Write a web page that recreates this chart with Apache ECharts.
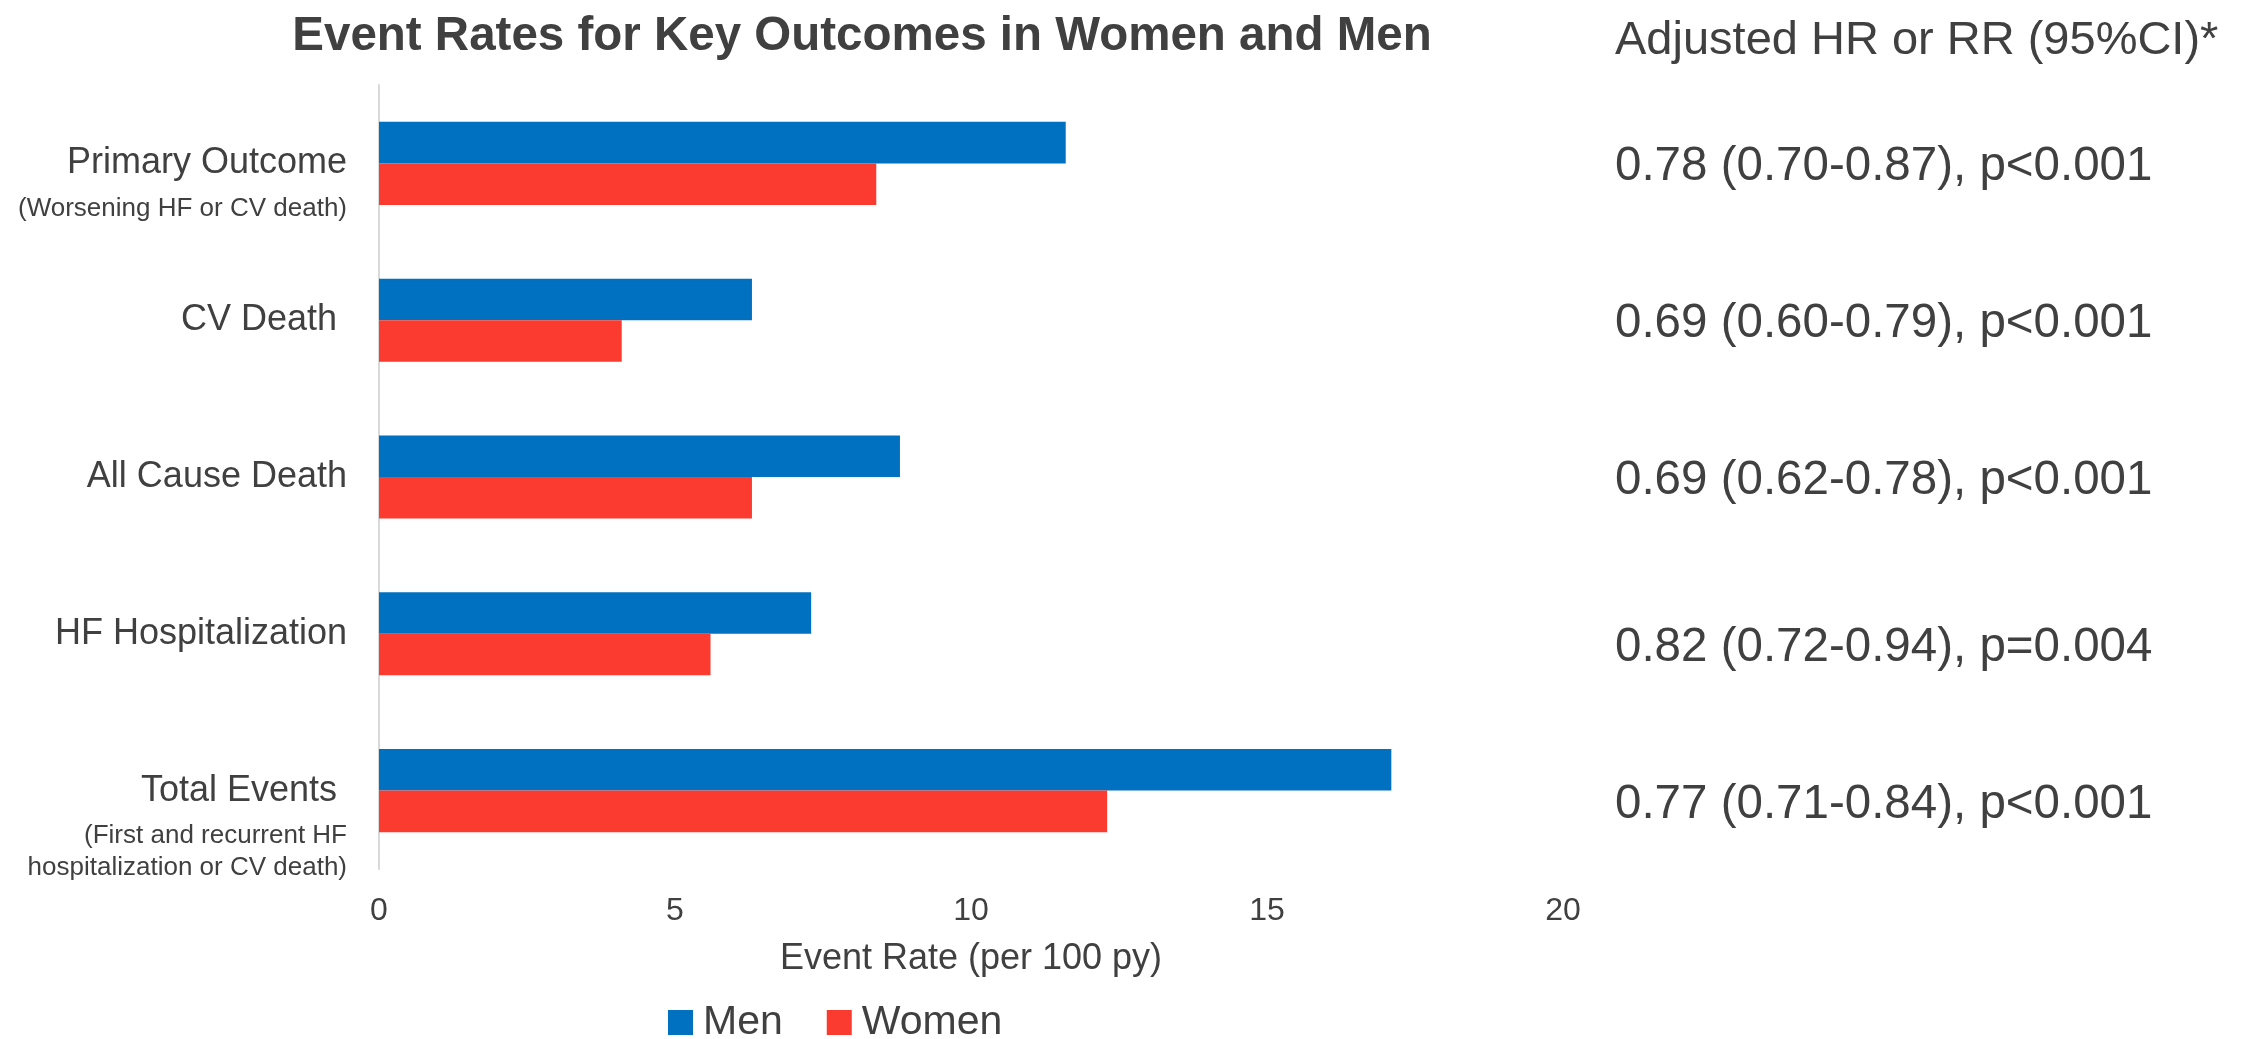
<!DOCTYPE html>
<html>
<head>
<meta charset="utf-8">
<script src="https://cdn.jsdelivr.net/npm/echarts@6/dist/echarts.min.js"></script>
<style>
  html, body { margin: 0; padding: 0; background: #ffffff; }
  #chart { width: 2259px; height: 1039px; }
</style>
</head>
<body>
<div id="chart"></div>
<script>
// Outcome categories (top to bottom) and their explanatory sub-lines
const categories = ['Primary Outcome', 'CV Death ', 'All Cause Death', 'HF Hospitalization', 'Total Events '];
const subtitles = [
  ['(Worsening HF or CV death)'],
  [],
  [],
  [],
  ['(First and recurrent HF', 'hospitalization or CV death)']
];

// Event rates per 100 patient-years
const menRates = [11.6, 6.3, 8.8, 7.3, 17.1];
const womenRates = [8.4, 4.1, 6.3, 5.6, 12.3];

// Adjusted hazard / rate ratios shown beside each outcome
const hrLabels = [
  '0.78 (0.70-0.87), p<0.001',
  '0.69 (0.60-0.79), p<0.001',
  '0.69 (0.62-0.78), p<0.001',
  '0.82 (0.72-0.94), p=0.004',
  '0.77 (0.71-0.84), p<0.001'
];

const seriesNames = ['Men', 'Women'];
const xMin = 0, xMax = 20, xStep = 5;

const TEXT = '#404040';
const FONT = '"Liberation Sans", Arial, Helvetica, sans-serif';

const chart = echarts.init(document.getElementById('chart'), null, { renderer: 'canvas' });

// Left labels: main name on the category centre, sub-lines hanging below it.
// A blank spacer of the same height as the sub-lines keeps the main line centred.
function leftLabel(value, idx) {
  const subs = subtitles[idx] || [];
  const parts = [];
  subs.forEach(() => parts.push('{sp| }'));
  parts.push('{main|' + value + '}');
  subs.forEach(s => parts.push('{sub|' + s + '}'));
  return parts.join('\n');
}

// The last two ratio rows sit slightly below their bars
function rightLabel(value, idx) {
  return (idx >= 3 ? '{low|' : '{norm|') + hrLabels[idx] + '}';
}

const option = {
  backgroundColor: '#ffffff',
  animation: false,
  textStyle: { fontFamily: FONT, color: TEXT },
  graphic: [
    {
      type: 'text',
      x: 862, y: 37,
      style: {
        text: 'Event Rates for Key Outcomes in Women and Men',
        fill: TEXT,
        font: 'bold 47.5px ' + FONT,
        textAlign: 'center',
        textVerticalAlign: 'middle'
      }
    },
    {
      type: 'text',
      x: 1615, y: 41,
      style: {
        text: 'Adjusted HR or RR (95%CI)*',
        fill: TEXT,
        font: '47px ' + FONT,
        textAlign: 'left',
        textVerticalAlign: 'middle'
      }
    }
  ],
  legend: {
    data: seriesNames,
    left: 668,
    top: 1002,
    padding: 0,
    itemWidth: 25,
    itemHeight: 25,
    itemGap: 44,
    icon: 'rect',
    textStyle: { fontSize: 41, color: TEXT, fontFamily: FONT, padding: [0, 0, 0, 5] }
  },
  grid: { left: 379, right: 696, top: 85, bottom: 170, containLabel: false },
  xAxis: {
    type: 'value',
    min: xMin,
    max: xMax,
    interval: xStep,
    axisLine: { show: false },
    axisTick: { show: false },
    splitLine: { show: false },
    axisLabel: { fontSize: 32, color: TEXT, fontFamily: FONT, margin: 26 },
    name: 'Event Rate (per 100 py)',
    nameLocation: 'middle',
    nameGap: 72,
    nameTextStyle: { fontSize: 36, color: TEXT, fontFamily: FONT }
  },
  yAxis: [
    {
      type: 'category',
      data: categories,
      inverse: true,
      axisLine: { show: true, lineStyle: { color: '#D9D9D9', width: 2 } },
      axisTick: { show: false },
      splitLine: { show: false },
      axisLabel: {
        margin: 32,
        align: 'right',
        formatter: leftLabel,
        rich: {
          main: { fontSize: 36, lineHeight: 58, color: TEXT, fontFamily: FONT, align: 'right' },
          sub: { fontSize: 26, lineHeight: 32, color: TEXT, fontFamily: FONT, align: 'right' },
          sp: { fontSize: 26, lineHeight: 32, align: 'right' }
        }
      }
    },
    {
      type: 'category',
      data: categories,
      inverse: true,
      position: 'right',
      axisLine: { show: false },
      axisTick: { show: false },
      splitLine: { show: false },
      axisLabel: {
        margin: 52,
        align: 'left',
        formatter: rightLabel,
        rich: {
          norm: { fontSize: 47.5, color: TEXT, fontFamily: FONT, padding: [8, 0, 0, 0] },
          low: { fontSize: 47.5, color: TEXT, fontFamily: FONT, padding: [28, 0, 0, 0] }
        }
      }
    }
  ],
  series: [
    {
      name: seriesNames[0],
      type: 'bar',
      yAxisIndex: 0,
      data: menRates,
      barGap: '0%',
      barCategoryGap: '47%',
      itemStyle: { color: '#0070C0' }
    },
    {
      name: seriesNames[1],
      type: 'bar',
      yAxisIndex: 0,
      data: womenRates,
      barGap: '0%',
      barCategoryGap: '47%',
      itemStyle: { color: '#FB3B30' }
    }
  ]
};

chart.setOption(option);
</script>
</body>
</html>
